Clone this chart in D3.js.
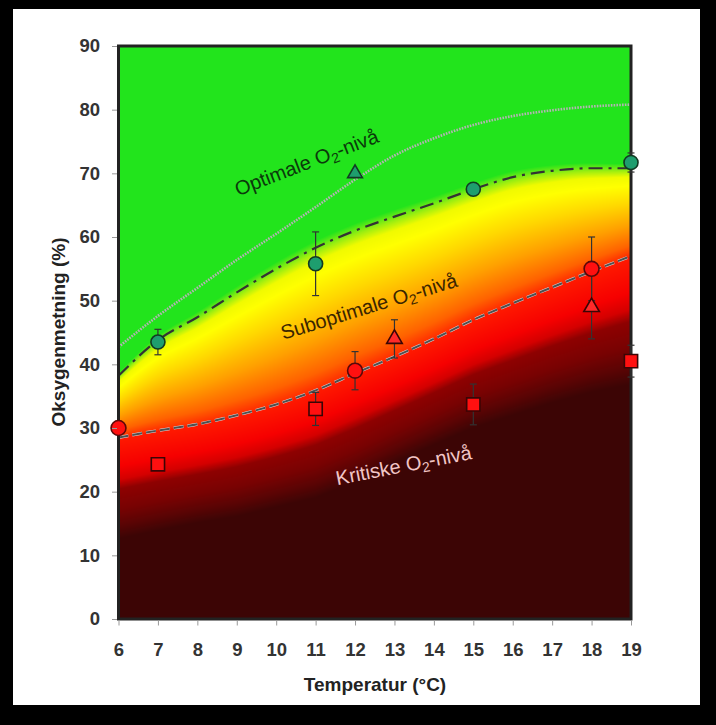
<!DOCTYPE html>
<html><head><meta charset="utf-8">
<script src="https://cdn.jsdelivr.net/npm/d3@7"></script>
<style>html,body{margin:0;padding:0;background:#000;overflow:hidden}</style>
</head><body>
<svg id="c" width="716" height="725"></svg>
<script>
// ---------- data ----------
const temps = [6,7,8,9,10,11,12,13,14,15,16,17,18,19];
const optimalCurve    = [42.7,47.6,52.0,56.4,60.5,64.7,69.0,72.8,75.5,77.6,79.0,79.9,80.5,80.8];
const suboptimalCurve = [38.2,43.8,47.4,51.3,55.0,58.3,61.0,63.2,65.3,67.5,69.4,70.4,70.8,70.8];
const criticalCurve   = [28.5,29.6,30.6,32.0,33.7,35.9,38.6,41.2,44.0,47.0,49.6,52.1,54.6,57.0];
// lower edge of the dark-red band (start of the darkest zone)
const darkEdge        = [13.5,14.8,16.0,17.0,18.5,20.0,22.5,25.5,28.3,31.0,33.0,35.0,36.7,38.0];

const greenCircles  = [{t:7,v:43.5,e:2},{t:11,v:55.8,e:5},{t:15,v:67.5,e:0},{t:19,v:71.7,e:1.5}];
const greenTriangles= [{t:12,v:70,e:0}];
const redCircles    = [{t:6,v:30,e:0},{t:12,v:39,e:3},{t:18,v:55,e:5}];
const redTriangles  = [{t:13,v:44,e:3},{t:18,v:49,e:5}];
const redSquares    = [{t:7,v:24.3,e:0},{t:11,v:33,e:2.6},{t:15,v:33.7,e:3.2},{t:19,v:40.5,e:2.5}];

const xTicks = [6,7,8,9,10,11,12,13,14,15,16,17,18,19];
const yTicks = [0,10,20,30,40,50,60,70,80,90];
const xTitle = "Temperatur (°C)";
const yTitle = "Oksygenmetning (%)";

// ---------- layout ----------
const svg = d3.select('#c');
const x = d3.scaleLinear().domain([6,19]).range([118.5,631]);
const y = d3.scaleLinear().domain([0,90]).range([619,46]);
const fontFam = "'Liberation Sans', Arial, sans-serif";

svg.append('rect').attr('x',13).attr('y',9).attr('width',687).attr('height',696).attr('fill','#fff');

const plot = svg.append('g');
const fieldG = plot.append('g');
const lineG = plot.append('g');

const line = d3.line().x((d,i)=>x(temps[i])).y(d=>y(d)).curve(d3.curveMonotoneX);

lineG.append('path').datum(optimalCurve).attr('d',line)
  .attr('fill','none').attr('stroke','#b4b4b4').attr('stroke-width',2.6).attr('stroke-dasharray','1.6,1.2');
const pSub = lineG.append('path').datum(suboptimalCurve).attr('d',line)
  .attr('fill','none').attr('stroke','#333').attr('stroke-width',2.2).attr('stroke-dasharray','14,6,3,6');
lineG.append('path').datum(criticalCurve).attr('d',line)
  .attr('fill','none').attr('stroke','#d8d8d8').attr('stroke-width',3).attr('stroke-dasharray','10,4');
const pCrit = lineG.append('path').datum(criticalCurve).attr('d',line)
  .attr('fill','none').attr('stroke','#505050').attr('stroke-width',2).attr('stroke-dasharray','10,4');

function sampler(node){
  const L = node.getTotalLength(); const pts=[];
  for(let l=0;l<=L;l+=0.5){const p=node.getPointAtLength(l);pts.push([p.x,p.y]);}
  pts.sort((a,b)=>a[0]-b[0]);
  const xs = pts.map(p=>p[0]);
  return px=>{
    let i=d3.bisectLeft(xs,px);
    if(i<=0) return pts[0][1];
    if(i>=pts.length) return pts[pts.length-1][1];
    const a=pts[i-1],b=pts[i]; const t=(px-a[0])/((b[0]-a[0])||1);
    return a[1]+t*(b[1]-a[1]);
  };
}
const sU = sampler(pSub.node()), sL = sampler(pCrit.node());
const mEdge = d3.scaleLinear().domain(temps).range(darkEdge);

// colour field
const aboveStops  = [0,0.12,0.35,0.6,0.8,0.9,0.97,1.05];
const aboveColors = ['#ff2a00','#ff6200','#ffa000','#ffd800','#ffff00','#f0fa00','#9cee10','#22e41c'];
const belowStops  = [0,0.3,0.44,0.54,0.75,0.92,1.06];
const belowColors = ['#ff1a00','#f60000','#d40000','#8e0101','#780202','#5a0404','#3c0505'];
const ca = d3.scaleLinear().domain(aboveStops).range(aboveColors).clamp(true);
const cb = d3.scaleLinear().domain(belowStops).range(belowColors).clamp(true);
function lut(scale,lo,hi,n){const a=[];for(let k=0;k<n;k++)a.push(d3.rgb(scale(lo+(hi-lo)*k/(n-1))));return a;}
const N=1500, lutA=lut(ca,0,1.2,N), lutB=lut(cb,0,1.2,N);

const x0=Math.floor(x.range()[0]), x1=Math.ceil(x.range()[1]);
const y0=Math.floor(y.range()[1]), y1=Math.ceil(y.range()[0]);
const pw=x1-x0, ph=y1-y0;
const cv=document.createElement('canvas'); cv.width=pw; cv.height=ph;
const ctx=cv.getContext('2d'); const img=ctx.createImageData(pw,ph);
for(let i=0;i<pw;i++){
  const px=x0+i+0.5;
  const vU=y.invert(sU(px)), vL=y.invert(sL(px)), vM=mEdge(x.invert(px));
  for(let j=0;j<ph;j++){
    const v=y.invert(y0+j+0.5); let c;
    if(v>=vL){ const s=(v-vL)/(vU-vL); let k=Math.round(s/1.2*(N-1)); k=Math.max(0,Math.min(N-1,k)); c=lutA[k]; }
    else { const q=(vL-v)/(vL-vM); let k=Math.round(q/1.2*(N-1)); k=Math.max(0,Math.min(N-1,k)); c=lutB[k]; }
    const o=(j*pw+i)*4;
    img.data[o]=c.r; img.data[o+1]=c.g; img.data[o+2]=c.b; img.data[o+3]=255;
  }
}
ctx.putImageData(img,0,0);
fieldG.append('image').attr('x',x0).attr('y',y0).attr('width',pw).attr('height',ph)
  .attr('href',cv.toDataURL());

// labels inside
function zoneLabel(cx,cy,rot,txt1,txt2,fill){
  const t=plot.append('text').attr('transform',`translate(${cx},${cy}) rotate(${rot})`)
    .attr('text-anchor','middle').attr('font-family',fontFam).attr('font-size',20).attr('fill',fill);
  t.append('tspan').text(txt1);
  t.append('tspan').attr('dy',4).attr('font-size',14).text('2');
  t.append('tspan').attr('dy',-4).text(txt2);
}
zoneLabel(309,169,-21,'Optimale O','-nivå','#0b3a0b');
zoneLabel(371,313,-17,'Suboptimale O','-nivå','#3a2500');
zoneLabel(405,472,-11,'Kritiske O','-nivå','#f2c6c6');

// frame
plot.append('rect').attr('x',x.range()[0]).attr('y',y.range()[1])
  .attr('width',x.range()[1]-x.range()[0]).attr('height',y.range()[0]-y.range()[1])
  .attr('fill','none').attr('stroke','#222').attr('stroke-width',3);

// error bars + markers
const allPts=[...greenCircles,...greenTriangles,...redCircles,...redTriangles,...redSquares].filter(d=>d.e>0);
const eg=plot.append('g').attr('stroke','#333').attr('stroke-width',1.2);
allPts.forEach(d=>{
  eg.append('line').attr('x1',x(d.t)).attr('x2',x(d.t)).attr('y1',y(d.v-d.e)).attr('y2',y(d.v+d.e));
  eg.append('line').attr('x1',x(d.t)-3.5).attr('x2',x(d.t)+3.5).attr('y1',y(d.v-d.e)).attr('y2',y(d.v-d.e));
  eg.append('line').attr('x1',x(d.t)-3.5).attr('x2',x(d.t)+3.5).attr('y1',y(d.v+d.e)).attr('y2',y(d.v+d.e));
});
const mg=plot.append('g');
const sym=(type,size)=>d3.symbol().type(type).size(size)();
function markers(data,type,size,fill,stroke){
  mg.selectAll(null).data(data).enter().append('path')
    .attr('transform',d=>`translate(${x(d.t)},${y(d.v)})`)
    .attr('d',sym(type,size)).attr('fill',fill).attr('stroke',stroke).attr('stroke-width',1.6);
}
markers(greenCircles,d3.symbolCircle,155,'#1e9e6e','#123a22');
markers(greenTriangles,d3.symbolTriangle,95,'#1e9e6e','#123a22');
markers(redCircles,d3.symbolCircle,175,'#ff1010','#5a0808');
markers(redTriangles,d3.symbolTriangle,105,'#ff2a2a','#3a0505');
markers(redSquares,d3.symbolSquare,175,'#ff1010','#3a0505');

// axes
const xa=svg.append('g').attr('transform',`translate(0,${y.range()[0]+1.5})`)
  .call(d3.axisBottom(x).tickValues(xTicks).tickSize(5).tickPadding(17).tickFormat(d3.format('d')));
const ya=svg.append('g').attr('transform',`translate(${x.range()[0]-1.5},0)`)
  .call(d3.axisLeft(y).tickValues(yTicks).tickSize(5).tickPadding(12).tickFormat(d3.format('d')));
[xa,ya].forEach(a=>{
  a.select('.domain').remove();
  a.selectAll('line').attr('stroke','#999');
  a.selectAll('text').attr('font-family',fontFam).attr('font-size',18.5).attr('font-weight','bold').attr('fill','#333');
});

svg.append('text').attr('x',375).attr('y',691).attr('text-anchor','middle')
  .attr('font-family',fontFam).attr('font-size',19).attr('font-weight','bold').attr('fill','#222').text(xTitle);
svg.append('text').attr('transform','translate(65,332) rotate(-90)').attr('text-anchor','middle')
  .attr('font-family',fontFam).attr('font-size',19).attr('font-weight','bold').attr('fill','#222').text(yTitle);
</script>
</body></html>
